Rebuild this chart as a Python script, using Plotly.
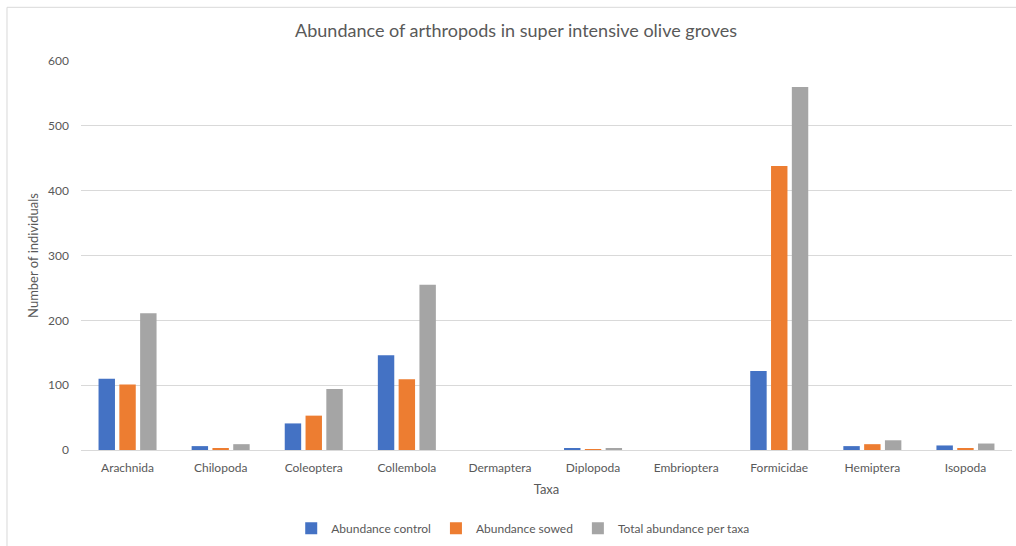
import plotly.graph_objects as go

# Arthropod counts per taxon
taxa = ["Arachnida", "Chilopoda", "Coleoptera", "Collembola", "Dermaptera",
        "Diplopoda", "Embrioptera", "Formicidae", "Hemiptera", "Isopoda"]
abundance_control = [110, 6, 41, 146, 0, 2, 0, 122, 6, 7]
abundance_sowed = [101, 3, 53, 109, 0, 1, 0, 438, 9, 3]
total_abundance = [211, 9, 94, 255, 0, 3, 0, 560, 15, 10]

y_ticks = [0, 100, 200, 300, 400, 500, 600]

FONT = "Lato, Open Sans, sans-serif"
TEXT = "#595959"
GRID = "#D9D9D9"

fig = go.Figure()
series = [
    ("Abundance control", abundance_control, "#4472C4"),
    ("Abundance sowed", abundance_sowed, "#ED7D31"),
    ("Total abundance per taxa", total_abundance, "#A5A5A5"),
]
for name, vals, color in series:
    fig.add_trace(go.Bar(
        x=taxa, y=vals, name=name,
        marker=dict(color=color, line=dict(width=0)),
    ))

fig.update_layout(
    width=1016, height=546,
    margin=dict(l=81, r=4, t=61, b=95),
    paper_bgcolor="white", plot_bgcolor="white",
    barmode="group", bargap=0.33, bargroupgap=0.21,
    font=dict(family=FONT, size=12, color=TEXT),
    title=dict(
        text="Abundance of arthropods in super intensive olive groves",
        x=0.508, xanchor="center", y=0.943, yanchor="middle",
        font=dict(family=FONT, size=18, color=TEXT),
    ),
    xaxis=dict(
        title=dict(text="Taxa", font=dict(size=13, color=TEXT), standoff=10),
        showgrid=False, showline=True, linecolor=GRID, linewidth=1,
        ticks="", ticklabelstandoff=7, tickfont=dict(size=12, color=TEXT),
    ),
    yaxis=dict(
        title=dict(text="Number of individuals", font=dict(size=13, color=TEXT), standoff=6),
        range=[0, 600], tickvals=y_ticks, showgrid=True, gridcolor=GRID,
        gridwidth=1, zeroline=False, showline=False, ticks="",
        ticklabelstandoff=11, tickfont=dict(size=12, color=TEXT),
    ),
    legend=dict(
        orientation="h", x=0.475, xanchor="center", y=-0.198, yanchor="middle",
        font=dict(size=12, color=TEXT), itemwidth=30, traceorder="normal",
    ),
    shapes=[dict(
        type="rect", xref="paper", yref="paper",
        x0=-0.0795, x1=1.05, y0=-0.4, y1=1.138,
        line=dict(color=GRID, width=1), fillcolor="rgba(0,0,0,0)", layer="below",
    )],
)

fig.write_html("out.html")
